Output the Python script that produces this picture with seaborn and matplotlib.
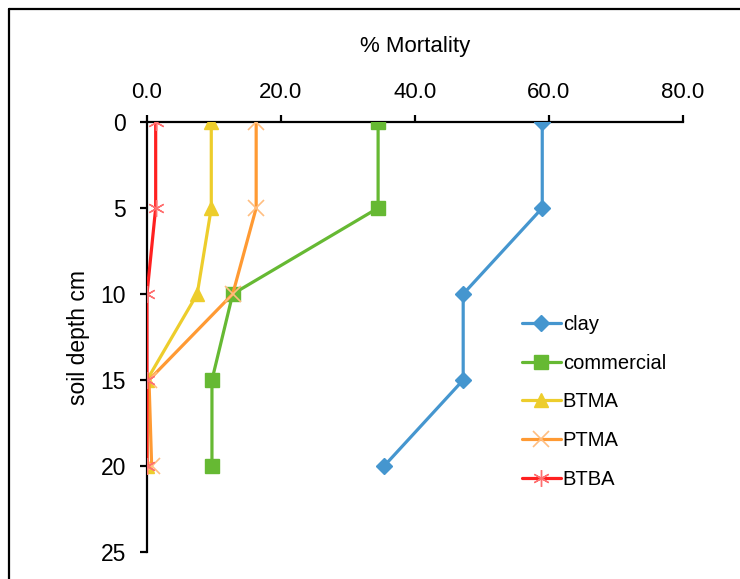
import matplotlib
matplotlib.use("Agg")
import matplotlib.pyplot as plt
import seaborn as sns
import pandas as pd
from matplotlib.lines import Line2D

depth = [0, 5, 10, 15, 20]
clay = [59.0, 59.0, 47.2, 47.2, 35.4]
commercial = [34.5, 34.5, 12.8, 9.7, 9.7]
btma = [9.6, 9.6, 7.5, 0.0, 0.0]
ptma = [16.3, 16.3, 12.8, 0.3, 0.7]
btba = [1.3, 1.3, 0.0, 0.0, 0.0]
series_names = ["clay", "commercial", "BTMA", "PTMA", "BTBA"]
x_ticks = [0, 20, 40, 60, 80]
y_ticks = [0, 5, 10, 15, 20, 25]

sns.set_theme(style="white")
plt.rcParams['font.family'] = ['Liberation Sans', 'DejaVu Sans']

fig = plt.figure(figsize=(7.4, 5.79), dpi=100)
ax = fig.add_axes([0.1986, 0.0466, 0.7243, 0.7427])

styles = [
    dict(color="#4596CF", marker="D", ms=8, mfc="#4596CF", mec="#4596CF", mew=1),
    dict(color="#66B933", marker="s", ms=10, mfc="#66B933", mec="#66B933", mew=1),
    dict(color="#EDCD2C", marker="^", ms=10, mfc="#EDCD2C", mec="#EDCD2C", mew=1),
    dict(color="#FF9A33", marker="x", ms=11, mfc="none", mec="#FFBE80", mew=1.2),
    dict(color="#FF2020", marker=(6, 2, 0), ms=12, mfc="none", mec="#FF7070", mew=1.0),
]
data = [clay, commercial, btma, ptma, btba]

handles = []
for name, vals, st in zip(series_names, data, styles):
    df = pd.DataFrame({"x": vals, "y": depth})
    sns.lineplot(data=df, x="x", y="y", sort=False, estimator=None, orient="y",
                 ax=ax, color=st["color"], linewidth=2.3, marker=st["marker"],
                 markersize=st["ms"], markerfacecolor=st["mfc"],
                 markeredgecolor=st["mec"], markeredgewidth=st["mew"], zorder=3)
    handles.append(Line2D([0], [0], color=st["color"], lw=2.3, marker=st["marker"],
                          markersize=st["ms"], markerfacecolor=st["mfc"],
                          markeredgecolor=st["mec"], markeredgewidth=st["mew"]))

ax.set_xlim(0, 80)
ax.set_ylim(25, 0)
ax.set_xticks(x_ticks)
ax.set_xticklabels([f"{v:.1f}" for v in x_ticks])
ax.set_yticks(y_ticks)
ax.set_yticklabels([str(v) for v in y_ticks])
ax.xaxis.tick_top()
ax.xaxis.set_label_position("top")
for s in ["right", "bottom"]:
    ax.spines[s].set_visible(False)
for s in ["left", "top"]:
    ax.spines[s].set_color("black")
    ax.spines[s].set_linewidth(1.6)
    ax.spines[s].set_zorder(2)
ax.tick_params(axis="x", which="both", top=True, bottom=False, direction="out",
               length=5, width=1.6, color="black", labelsize=16, pad=9,
               labelcolor="black")
ax.tick_params(axis="y", which="both", left=True, direction="out", length=5,
               width=1.6, color="black", labelsize=16.5, pad=10, labelcolor="black")
ax.set_xlabel("% Mortality", fontsize=16, labelpad=21, color="black")
ax.set_ylabel("soil depth cm", fontsize=16.5, labelpad=8, color="black")
ax.patch.set_alpha(0)

leg = fig.legend(handles, series_names, loc="upper left",
                 bbox_to_anchor=(0.695, 0.470), frameon=False, fontsize=14.5,
                 handlelength=1.9, handletextpad=0.1, labelspacing=0.98,
                 borderaxespad=0)
for t in leg.get_texts():
    t.set_color("black")

# outer border (chart frame, extends past the image edges)
fig.add_artist(Line2D([8.5 / 740, 8.5 / 740], [1 - 8.5 / 579, -0.1], color="black",
                      lw=1.6, transform=fig.transFigure))
fig.add_artist(Line2D([8.5 / 740, 1.1], [1 - 8.5 / 579, 1 - 8.5 / 579], color="black",
                      lw=1.6, transform=fig.transFigure))

fig.savefig("out.png", dpi=100)
